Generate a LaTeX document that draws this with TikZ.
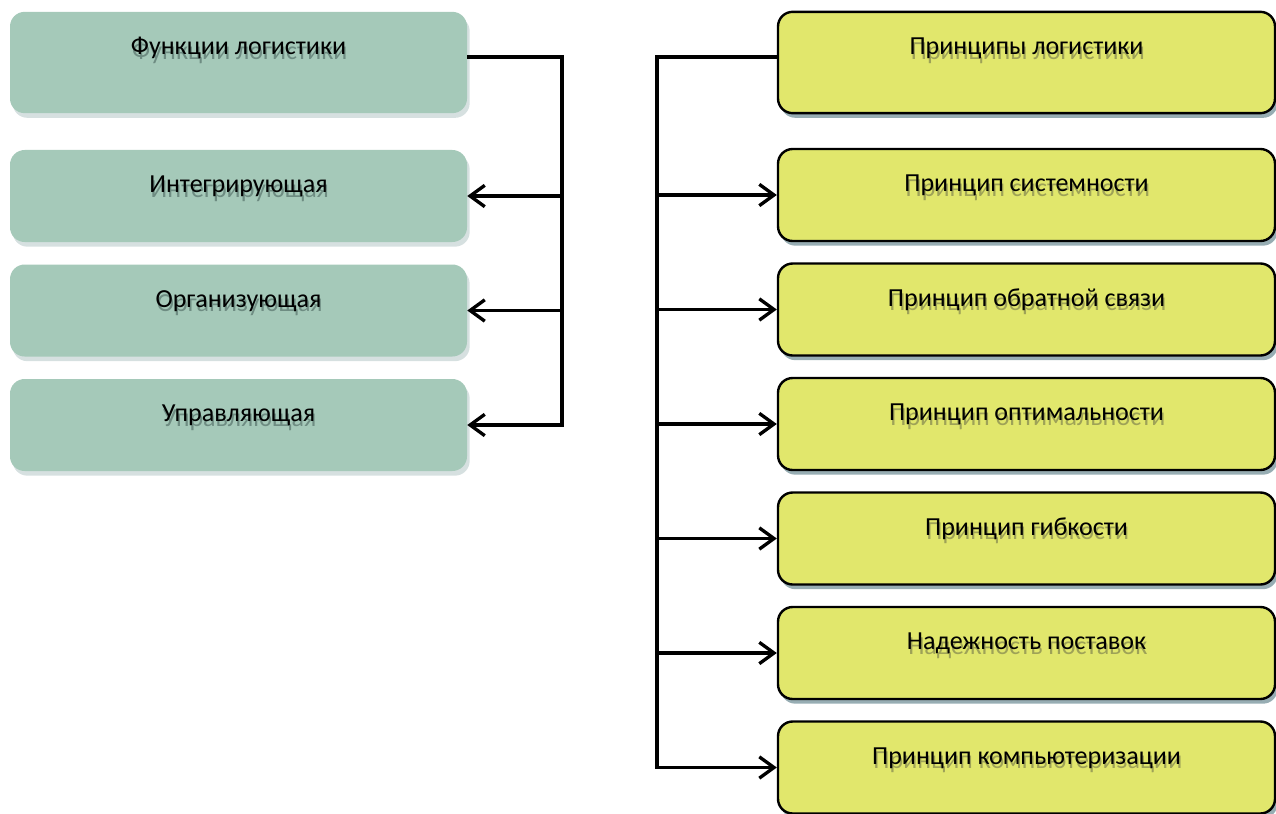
\documentclass[tikz,border=0pt]{standalone}
\usepackage{fontspec}
\setmainfont{Carlito}
\usetikzlibrary{arrows.meta,calc,positioning,shadows}
\definecolor{funcfill}{HTML}{A5C9B9}
\definecolor{funcshade}{HTML}{D6E0E0}
\definecolor{functext}{HTML}{6E8C82}
\definecolor{princfill}{HTML}{E1E76C}
\definecolor{princshade}{HTML}{97ADB3}
\definecolor{princtext}{HTML}{9EA257}
\newcommand{\shtxt}[2]{\makebox[0pt][l]{\kern1pt\raisebox{-3.5pt}{\textcolor{#1}{#2}}}#2}

\begin{document}
\begin{tikzpicture}[x=0.75pt, y=-0.75pt,
                    func/.style ={rectangle, rounded corners=11pt, fill=funcfill, minimum width=342.75pt, inner sep=0,
                                  text height=32pt, text depth=37pt, font=\fontsize{19.5}{23}\selectfont,
                                  drop shadow={shadow xshift=2pt, shadow yshift=-3.5pt, fill=funcshade, opacity=1}},
                    princ/.style={rectangle, rounded corners=11pt, draw=black, line width=1.8pt, fill=princfill,
                                  minimum width=372.75pt, inner sep=0, text height=32pt, text depth=37pt,
                                  font=\fontsize{19.5}{23}\selectfont,
                                  drop shadow={shadow xshift=2pt, shadow yshift=-3.5pt, fill=princshade, opacity=1}},
                    first/.style={text depth=44pt},
                    conn/.style ={draw, line width=2.5pt, color=black, line join=miter},
                    arr/.style  ={conn, -{Straight Barb[length=11pt, width=16pt]}}]

  \clip (0,0) rectangle (1276,813);

  % functions
  \node[func, first] at(238.5, 62.5)            (func1) {\shtxt{functext}{Функции логистики}};
  \node[func]  at($(func1) +(0,133.5)$)          (func2) {\shtxt{functext}{Интегрирующая}};
  \node[func]  at($(func2) +(0,114.5)$)          (func3) {\shtxt{functext}{Организующая}};
  \node[func]  at($(func3) +(0,114.5)$)          (func4) {\shtxt{functext}{Управляющая}};

  % principles
  \node[princ, first] at(1026.5, 62.5)          (princ1) {\shtxt{princtext}{Принципы логистики}};
  \node[princ] at($(princ1)+(0,132.5)$)          (princ2) {\shtxt{princtext}{Принцип системности}};
  \node[princ] at($(princ2)+(0,114.5)$)          (princ3) {\shtxt{princtext}{Принцип обратной связи}};
  \node[princ] at($(princ3)+(0,114.5)$)          (princ4) {\shtxt{princtext}{Принцип оптимальности}};
  \node[princ] at($(princ4)+(0,114.5)$)          (princ5) {\shtxt{princtext}{Принцип гибкости}};
  \node[princ] at($(princ5)+(0,114.5)$)          (princ6) {\shtxt{princtext}{Надежность поставок}};
  \node[princ] at($(princ6)+(0,114.5)$)          (princ7) {\shtxt{princtext}{Принцип компьютеризации}};

  \coordinate (lbus) at(562, 0);
  \coordinate (rbus) at(657, 0);

  \path[arr] ($(func1.east)+(0,-5.5)$) -| (lbus |- func4.east) -- (func4.east);
  \path[arr] (lbus |- func2.east) -- (func2.east);
  \path[arr] (lbus |- func3.east) -- (func3.east);

  \path[arr] ($(princ1.west)+(0,-5.5)$) -| (rbus |- princ7.west) -- (princ7.west);
  \path[arr] (rbus |- princ2.west) -- (princ2.west);
  \path[arr] (rbus |- princ3.west) -- (princ3.west);
  \path[arr] (rbus |- princ4.west) -- (princ4.west);
  \path[arr] (rbus |- princ5.west) -- (princ5.west);
  \path[arr] (rbus |- princ6.west) -- (princ6.west);
\end{tikzpicture}
\end{document}
